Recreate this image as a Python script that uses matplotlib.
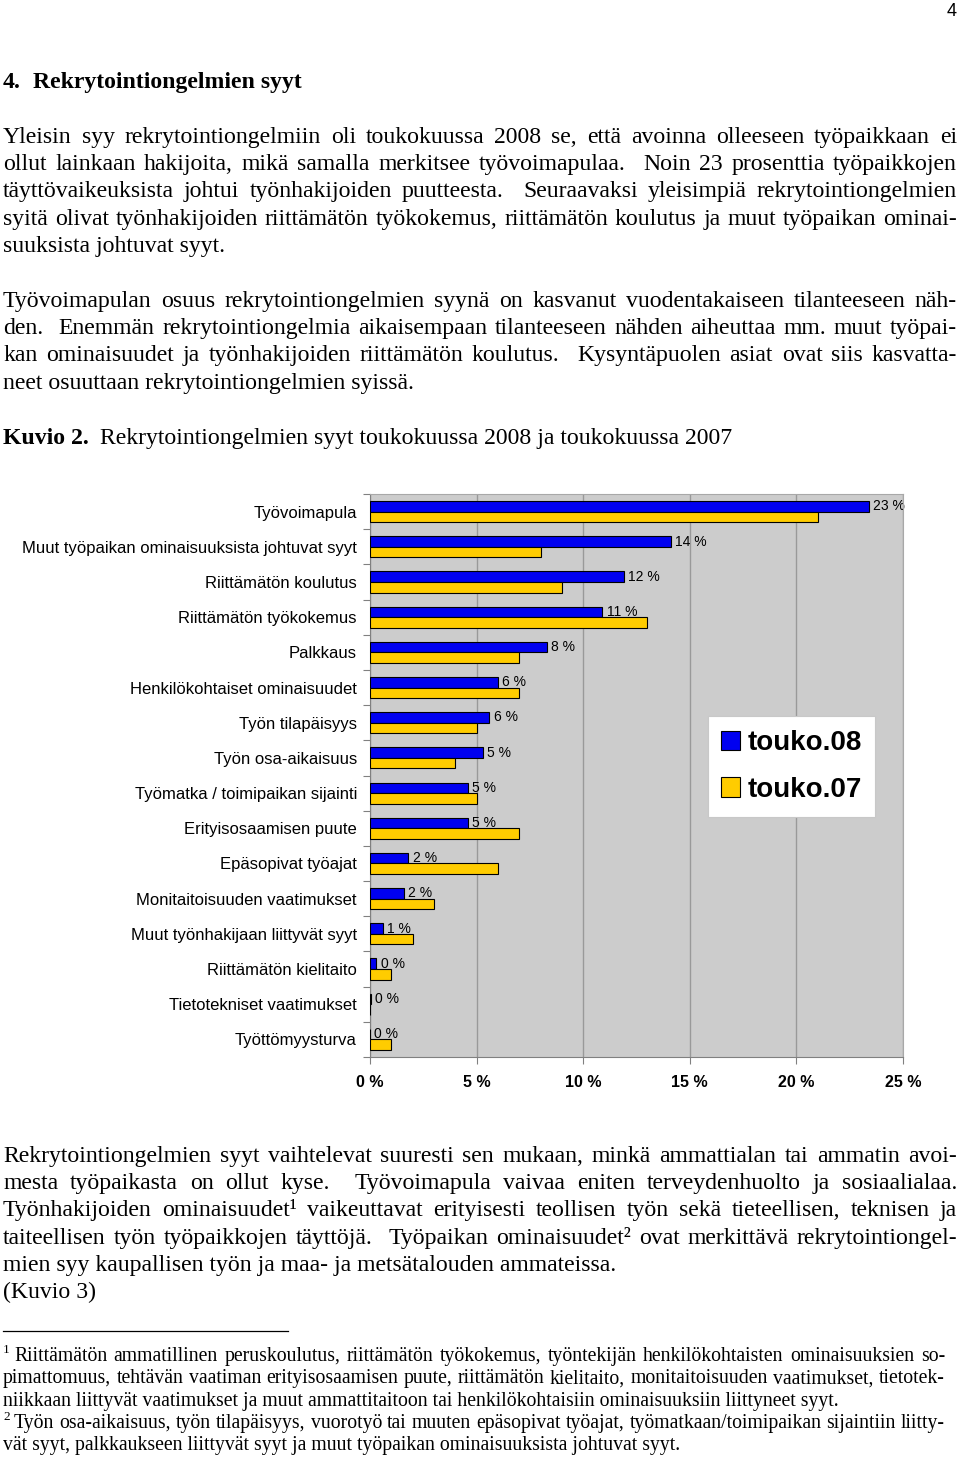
import matplotlib
matplotlib.use('Agg')
import matplotlib.pyplot as plt
import numpy as np

# chart data (percent of recruitment problems)
categories = ['Työvoimapula',
              'Muut työpaikan ominaisuuksista johtuvat syyt',
              'Riittämätön koulutus',
              'Riittämätön työkokemus',
              'Palkkaus',
              'Henkilökohtaiset ominaisuudet',
              'Työn tilapäisyys',
              'Työn osa-aikaisuus',
              'Työmatka / toimipaikan sijainti',
              'Erityisosaamisen puute',
              'Epäsopivat työajat',
              'Monitaitoisuuden vaatimukset',
              'Muut työnhakijaan liittyvät syyt',
              'Riittämätön kielitaito',
              'Tietotekniset vaatimukset',
              'Työttömyysturva']
touko08 = [23.4, 14.1, 11.9, 10.9, 8.3, 6.0, 5.6, 5.3, 4.6, 4.6, 1.8, 1.6, 0.6, 0.3, 0.05, 0.0]
touko07 = [21.0, 8.0, 9.0, 13.0, 7.0, 7.0, 5.0, 4.0, 5.0, 7.0, 6.0, 3.0, 2.0, 1.0, 0.0, 1.0]
series_names = ['touko.08', 'touko.07']
xticks = [0, 5, 10, 15, 20, 25]

# page text
heading = ['4.', 'Rekrytointiongelmien syyt']
para1 = ['Yleisin syy rekrytointiongelmiin oli toukokuussa 2008 se, että avoinna olleeseen työpaikkaan ei',
         'ollut lainkaan hakijoita, mikä samalla merkitsee työvoimapulaa.  Noin 23 prosenttia työpaikkojen',
         'täyttövaikeuksista johtui työnhakijoiden puutteesta.  Seuraavaksi yleisimpiä rekrytointiongelmien',
         'syitä olivat työnhakijoiden riittämätön työkokemus, riittämätön koulutus ja muut työpaikan ominai-',
         'suuksista johtuvat syyt.']
para2 = ['Työvoimapulan osuus rekrytointiongelmien syynä on kasvanut vuodentakaiseen tilanteeseen näh-',
         'den.  Enemmän rekrytointiongelmia aikaisempaan tilanteeseen nähden aiheuttaa mm. muut työpai-',
         'kan ominaisuudet ja työnhakijoiden riittämätön koulutus.  Kysyntäpuolen asiat ovat siis kasvatta-',
         'neet osuuttaan rekrytointiongelmien syissä.']
caption = ['Kuvio 2.', 'Rekrytointiongelmien syyt toukokuussa 2008 ja toukokuussa 2007']
para3 = ['Rekrytointiongelmien syyt vaihtelevat suuresti sen mukaan, minkä ammattialan tai ammatin avoi-',
         'mesta työpaikasta on ollut kyse.  Työvoimapula vaivaa eniten terveydenhuolto ja sosiaalialaa.',
         'Työnhakijoiden ominaisuudet¹ vaikeuttavat erityisesti teollisen työn sekä tieteellisen, teknisen ja',
         'taiteellisen työn työpaikkojen täyttöjä.  Työpaikan ominaisuudet² ovat merkittävä rekrytointiongel-',
         'mien syy kaupallisen työn ja maa- ja metsätalouden ammateissa.',
         '(Kuvio 3)']
foot1 = ['Riittämätön ammatillinen peruskoulutus, riittämätön työkokemus, työntekijän henkilökohtaisten ominaisuuksien so-',
         'pimattomuus, tehtävän vaatiman erityisosaamisen puute, riittämätön kielitaito, monitaitoisuuden vaatimukset, tietotek-',
         'niikkaan liittyvät vaatimukset ja muut ammattitaitoon tai henkilökohtaisiin ominaisuuksiin liittyneet syyt.']
foot2 = ['Työn osa-aikaisuus, työn tilapäisyys, vuorotyö tai muuten epäsopivat työajat, työmatkaan/toimipaikan sijaintiin liitty-',
         'vät syyt, palkkaukseen liittyvät syyt ja muut työpaikan ominaisuuksista johtuvat syyt.']

W, H = 960, 1459
SERIF = 'Liberation Serif'
SANS = 'Liberation Sans'
BODY = 17.1
FOOT = 14.2
BLUE = '#0000F0'
YELLOW = '#FFCC00'

fig = plt.figure(figsize=(W / 100, H / 100), dpi=100)
renderer = fig.canvas.get_renderer()


def fx(x):
    return x / W


def fy(y):
    return 1 - y / H


def put_line(text, y, x0, x1=957, size=BODY, justify=True, weight='normal'):
    # y is the visual middle of the line in pixels; draw on a common baseline
    yb = fy(y + 0.233 * size * 100 / 72)
    if not justify:
        fig.text(fx(x0), yb, text, fontsize=size, family=SERIF, weight=weight,
                 va='baseline', ha='left')
        return
    words = text.split(' ')
    arts, widths = [], []
    for w in words:
        t = fig.text(0, 0, w, fontsize=size, family=SERIF, weight=weight, va='baseline', ha='left')
        widths.append(t.get_window_extent(renderer).width if w else 0.0)
        arts.append(t)
    gap = (x1 - x0 - sum(widths)) / (len(words) - 1)
    x = x0
    for t, wd in zip(arts, widths):
        t.set_position((fx(x), yb))
        x += wd + gap


def put_para(lines, y0, step=27.4, x0=3, x1=957, size=BODY):
    for k, line in enumerate(lines):
        last = k == len(lines) - 1
        put_line(line, y0 + k * step, x0, x1, size, justify=not last)


fig.text(fx(957), fy(12), '4', fontsize=13, family=SANS, ha='right', va='center')
put_line(heading[0], 82, 3, size=BODY, justify=False, weight='bold')
put_line(heading[1], 82, 33, size=BODY, justify=False, weight='bold')
put_para(para1, 137)
put_para(para2, 301)
put_line(caption[0], 438, 3, justify=False, weight='bold')
put_line(caption[1], 438, 100, justify=False)
put_para(para3[:5], 1156)
put_line(para3[5], 1292, 3, justify=False)

# footnotes
fig.add_artist(plt.Line2D([fx(3), fx(288)], [fy(1331), fy(1331)], color='black', lw=0.9))
fig.text(fx(3), fy(1350), '1', fontsize=9.5, family=SERIF, va='center')
for k, line in enumerate(foot1):
    put_line(line, 1356 + k * 22.5, 14 if k == 0 else 3, 945, FOOT, justify=k < len(foot1) - 1)
fig.text(fx(3), fy(1417), '2', fontsize=9.5, family=SERIF, va='center')
for k, line in enumerate(foot2):
    put_line(line, 1423 + k * 22.5, 14 if k == 0 else 3, 945, FOOT, justify=k < len(foot2) - 1)

# chart
ax = fig.add_axes([fx(370), fy(1057), (903 - 370) / W, (1057 - 494) / H])
ax.set_facecolor('#CCCCCC')
y = np.arange(len(categories))
h = 0.3
b1 = ax.barh(y - h / 2, touko08, height=h, color=BLUE, edgecolor='black', lw=0.8,
             zorder=3, label=series_names[0])
b2 = ax.barh(y + h / 2, touko07, height=h, color=YELLOW, edgecolor='black', lw=0.8,
             zorder=3, label=series_names[1])
for i, v in enumerate(touko08):
    ax.annotate(f'{v:.0f} %', (v, i - h / 2), xytext=(3, 0), textcoords='offset points',
                va='center', ha='left', fontsize=10, family=SANS, zorder=2.5,
                annotation_clip=False)

ax.set_xlim(0, 25)
ax.set_ylim(len(categories) - 0.5, -0.5)
ax.set_xticks(xticks)
ax.set_xticklabels([f'{t} %' for t in xticks], fontsize=11.5, family=SANS, weight='bold')
ax.set_yticks(y)
ax.set_yticklabels(categories, fontsize=12, family=SANS)
ax.set_yticks(np.arange(-0.5, len(categories), 1), minor=True)
ax.tick_params(axis='y', which='major', length=0, pad=9.4)
ax.tick_params(axis='y', which='minor', length=5, color='#808080', width=0.8)
ax.tick_params(axis='x', length=5, color='#808080', width=0.8, pad=8)
ax.set_axisbelow(True)
ax.xaxis.grid(True, color='#999999', lw=1)
for side in ['top', 'right']:
    ax.spines[side].set_color('#A8A8A8')
for side in ['left', 'bottom']:
    ax.spines[side].set_color('#808080')

leg = ax.legend(handles=[b1, b2], loc='upper left', bbox_to_anchor=(fx(707.5), fy(716)),
                bbox_transform=fig.transFigure, borderaxespad=0, fancybox=False,
                framealpha=1, edgecolor='#C8C8C8', handlelength=0.68, handleheight=0.68,
                handletextpad=0.25, borderpad=0.5, labelspacing=0.75,
                prop={'family': SANS, 'weight': 'bold', 'size': 20})
leg.get_frame().set_linewidth(0.8)

fig.savefig('out.png', dpi=100)
